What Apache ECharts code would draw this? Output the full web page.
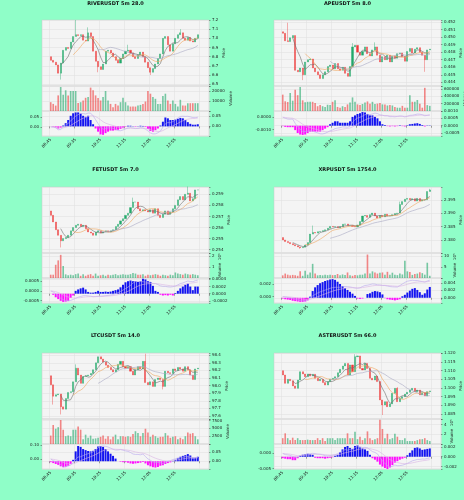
<!DOCTYPE html>
<html>
<head>
<meta charset="utf-8">
<script src="https://cdn.jsdelivr.net/npm/echarts@6/dist/echarts.min.js"></script>
<style>
  html, body { margin: 0; padding: 0; background: #8ffec8; }
  #chart { width: 464px; height: 500px; }
</style>
</head>
<body>
<div id="chart"></div>
<script>
// ---- data ----
const titles = ['RIVERUSDT 5m 28.0', 'APEUSDT 5m 8.0', 'FETUSDT 5m 7.0', 'XRPUSDT 5m 1754.0', 'LTCUSDT 5m 14.0', 'ASTERUSDT 5m 66.0'];
const tickLabels = ['08:45', '09:35', '10:25', '11:15', '12:05', '12:55'];

const riverOpen0 = 6.80;
const riverClose = [6.76,6.74,6.71,6.62,6.73,6.87,6.90,6.89,6.96,7.02, 7.04,7.03,7.04,6.98,6.97,7.06,7.02,6.86,6.75,6.69,
  6.66,6.72,6.86,6.87,6.84,6.80,6.76,6.73,6.78,6.83, 6.86,6.87,6.84,6.80,6.78,6.82,6.85,6.80,6.74,6.68,
  6.63,6.67,6.72,6.78,6.83,7.00,7.02,6.93,6.86,6.94, 7.00,7.04,7.06,7.00,6.98,7.01,6.97,6.96,7.00,7.04];
const riverWicks = [[4,null,6.55],[10,7.2,null],[15,7.12,null],[19,null,6.63],[31,6.93,null],[40,null,6.60],[52,7.1,null]];
const riverVol = [8800,7100,5400,15600,24000,16300,20700,15600,20000,20000, 20000,8100,8800,10500,13200,13900,23400,20700,15600,12900,
  10500,13900,20000,10500,7100,3700,7100,5400,8800,13200, 8800,5400,4400,4400,4400,5400,6100,7100,9500,20000,
  17300,13900,12200,7100,7100,14900,17300,10500,7100,10500, 7100,4400,11200,5400,5400,7800,7800,7800,7800,7800];
const riverHist = [0,-0.002,-0.005,-0.01,-0.006,0.004,0.015,0.03,0.05,0.062, 0.066,0.066,0.06,0.05,0.045,0.05,0.03,0.01,-0.01,-0.025,
  -0.038,-0.04,-0.032,-0.025,-0.02,-0.02,-0.018,-0.016,-0.012,-0.006, -0.002,0.003,0.003,0.001,-0.002,0.001,0.003,0.002,-0.003,-0.012,
  -0.022,-0.025,-0.018,-0.01,0.004,0.022,0.042,0.038,0.03,0.03, 0.032,0.036,0.04,0.038,0.03,0.02,0.012,0.008,0.008,0.01];

const apeOpen0 = 0.4507;
const apeClose = [0.4505,0.4495,0.4494,0.4499,0.4502,0.4456,0.4454,0.4459,0.4450,0.4467, 0.4470,0.4471,0.4459,0.4454,0.4450,0.4445,0.4450,0.4454,0.4461,0.4463,
  0.4458,0.4465,0.4458,0.4456,0.4460,0.4452,0.4448,0.4461,0.4487,0.4489, 0.4480,0.4476,0.4481,0.4487,0.4478,0.4475,0.4483,0.4487,0.4476,0.4467,
  0.4474,0.4470,0.4476,0.4467,0.4475,0.4472,0.4478,0.4479,0.4474,0.4468, 0.4481,0.4485,0.4479,0.4484,0.4486,0.4480,0.4476,0.4470,0.4483,0.4484];
const apeWicks = [[2,0.4519,null],[8,null,0.4443],[28,0.4492,null],[37,0.4493,null],[57,null,0.4454]];
const apeVol = [445000,264000,245000,490000,280000,580000,430000,650000,290000,240000, 250000,250000,250000,220000,130000,160000,130000,110000,170000,160000,
  250000,290000,110000,90000,130000,110000,180000,230000,370000,250000, 180000,160000,190000,230000,260000,200000,250000,190000,200000,220000,
  180000,180000,150000,160000,150000,110000,90000,90000,140000,90000, 90000,430000,250000,250000,300000,200000,90000,630000,160000,140000];
const apeHist = [-0.00003,-0.00008,-0.0001,-0.0001,-0.0001,-0.0003,-0.0005,-0.0006,-0.00063,-0.0006, -0.0005,-0.0004,-0.0004,-0.0004,-0.0004,-0.0004,-0.0003,-0.0002,-0.0001,0.0001,
  0.0002,0.0003,0.0003,0.0002,0.0002,0.0002,0.0002,0.0003,0.0006,0.0007, 0.0008,0.00085,0.00093,0.0009,0.0008,0.0007,0.0007,0.0006,0.0005,0.0003,
  0.0001,0.00005,-0.00003,-0.00005,-0.00003,-0.00005,-0.00003,0.00003,-0.00003,-0.00005, 0.00003,0.0001,0.00012,0.00015,0.00017,0.00012,0.00005,-0.00005,0.00002,0.00002];

const fetOpen0 = 0.2575;
const fetClose = [0.2571,0.2565,0.2558,0.2553,0.2548,0.2550,0.2551,0.2553,0.2557,0.2560, 0.2562,0.2563,0.2561,0.2562,0.2559,0.2556,0.2555,0.2553,0.2556,0.2557,
  0.2555,0.2556,0.2557,0.2556,0.2557,0.2558,0.2561,0.2563,0.2566,0.2568, 0.2571,0.2573,0.2578,0.2583,0.2583,0.2577,0.2575,0.2576,0.2575,0.2574,
  0.2576,0.2573,0.2577,0.2571,0.2569,0.2572,0.2575,0.2572,0.2574,0.2577, 0.2580,0.2585,0.2588,0.2585,0.2590,0.2591,0.2584,0.2586,0.2594,0.2594];
const fetWicks = [[4,null,0.2542],[33,0.2587,null],[55,0.2597,null]];
const fetVol = [0.3,0.3,1.2,1.6,2.1,1.1,0.33,0.25,0.3,0.25, 0.35,0.4,0.2,0.35,0.2,0.3,0.35,0.2,0.4,0.2,
  0.25,0.3,0.2,0.3,0.25,0.3,0.35,0.25,0.3,0.35, 0.3,0.3,0.35,0.45,0.4,0.3,0.3,0.35,0.2,0.3,
  0.25,0.3,0.35,0.3,0.2,0.3,0.25,0.2,0.3,0.25, 0.5,0.4,0.35,0.3,0.4,0.35,0.3,0.35,0.3,0.25];
const fetHist = [0,-0.00003,-0.0001,-0.00015,-0.0002,-0.00023,-0.00022,-0.0002,-0.00012,-0.00005, 0.00008,0.00012,0.00015,0.00017,0.00012,0.00005,0.00003,0.00003,0.00005,0.00008,
  0.00005,0.00005,0.00006,0.00005,0.00006,0.00008,0.0001,0.00012,0.00018,0.00025, 0.00032,0.00035,0.00037,0.00035,0.00035,0.00033,0.00035,0.00042,0.0004,0.00035,
  0.00033,0.00022,0.00008,0.00005,-0.00003,-0.00005,-0.00004,-0.00005,-0.00003,-0.00005, 0.00002,0.00008,0.00015,0.0002,0.00025,0.00028,0.0002,0.0001,0.0002,0.0002];

const xrpOpen0 = 2.3809;
const xrpClose = [2.3800,2.3794,2.3790,2.3786,2.3782,2.3778,2.3774,2.3771,2.3773,2.3781, 2.3790,2.3822,2.3828,2.3826,2.3831,2.3832,2.3835,2.3838,2.3844,2.3851,
  2.3849,2.3850,2.3846,2.3850,2.3859,2.3860,2.3854,2.3854,2.3851,2.3849, 2.3856,2.3869,2.3890,2.3892,2.3885,2.3895,2.3901,2.3890,2.3882,2.3892,
  2.3887,2.3897,2.3890,2.3890,2.3895,2.3899,2.3901,2.3933,2.3944,2.3953, 2.3956,2.3951,2.3955,2.3946,2.3956,2.3946,2.3950,2.3951,2.3982,2.3988];
const xrpWicks = [[7,null,2.3767],[12,2.3854,null],[47,2.3944,null],[59,2.3992,null]];
const xrpVol = [1.2,2.0,1.5,1.2,1.4,1.2,1.0,3.1,1.0,3.3, 1.5,2.5,6.4,2.0,1.2,1.3,1.2,1.5,1.3,1.5,
  1.3,1.4,1.8,1.2,1.6,1.3,2.5,1.2,1.0,1.3, 1.2,1.5,1.5,2.0,10.6,2.0,3.0,2.5,2.0,2.4,
  2.5,1.5,2.8,1.5,2.4,1.5,1.3,2.0,1.6,7.8, 3.0,2.7,1.4,1.8,2.0,2.6,2.2,1.5,6.9,1.0];
const xrpHist = [-0.0002,-0.0004,-0.0005,-0.0006,-0.0008,-0.0009,-0.001,-0.0011,-0.0011,-0.001, -0.0007,0.0003,0.0018,0.0028,0.0034,0.0039,0.0042,0.0045,0.0047,0.0049,
  0.005,0.0048,0.0043,0.0037,0.0031,0.0026,0.0021,0.0016,0.0011,0.0005, -0.0002,-0.0003,-0.0002,0,0.001,0.0012,0.0016,0.0018,0.0017,0.0015,
  0.0009,-0.0001,-0.0004,-0.0005,-0.0006,-0.0007,-0.0006,-0.0004,0.0004,0.0008, 0.0014,0.0019,0.0024,0.0026,0.0021,0.0015,0.0008,0.0012,0.0022,0.0029];

const ltcOpen0 = 98.13;
const ltcClose = [98.01,97.86,97.88,97.89,97.72,97.69,97.83,97.91,97.92,98.05, 98.23,98.14,98.03,98.12,98.13,98.14,98.16,98.21,98.30,98.38,
  98.35,98.31,98.27,98.24,98.21,98.18,98.21,98.28,98.32,98.25, 98.23,98.25,98.19,98.14,98.21,98.25,98.22,98.32,98.04,98.01,
  98.05,97.99,98.08,98.10,98.08,97.99,98.19,98.17,98.16,98.22, 98.20,98.24,98.22,98.19,98.25,98.21,98.14,98.08,98.22,98.23];
const ltcWicks = [[1,null,97.75],[4,null,97.62],[10,98.28,null],[38,98.42,null],[45,null,97.95]];
const ltcVol = [2700,6100,4900,5400,7700,4600,2500,2700,2500,4600, 4600,5600,4600,1500,3000,2000,2700,1700,1800,2000,
  2300,2700,1700,2500,1500,2300,3000,1500,2500,2500, 2300,2500,2300,3200,4100,3500,2500,3500,4900,3700,
  2300,3000,2500,2000,2300,2300,3500,2700,2000,2300, 2500,1500,2000,1500,2500,3700,3300,3500,2500,1500];
const ltcHist = [-0.005,-0.01,-0.015,-0.02,-0.028,-0.033,-0.03,-0.025,-0.015,0.008, 0.055,0.085,0.08,0.068,0.062,0.057,0.055,0.058,0.068,0.082,
  0.085,0.08,0.068,0.055,0.042,0.03,0.015,0,-0.003,-0.005, -0.005,-0.008,-0.012,-0.014,-0.012,-0.01,-0.008,-0.004,-0.012,-0.022,
  -0.028,-0.033,-0.035,-0.032,-0.025,-0.022,-0.015,-0.01,-0.006,0.002, 0.008,0.016,0.025,0.03,0.034,0.04,0.032,0.02,0.02,0.025];

const asterOpen0 = 1.1100;
const asterClose = [1.1075,1.1027,1.1050,1.1042,1.1012,1.0998,1.1046,1.1094,1.1081,1.1065, 1.1081,1.1069,1.1079,1.1056,1.1042,1.1050,1.1031,1.1017,1.1037,1.1050,
  1.1056,1.1065,1.1088,1.1108,1.1127,1.1142,1.1075,1.1133,1.1094,1.1181, 1.1185,1.1113,1.1104,1.1142,1.1113,1.1056,1.1046,1.1069,1.1037,1.0931,
  1.0902,1.0921,1.0892,1.0908,1.0969,1.0998,1.0921,1.0940,1.0950,1.0965, 1.0975,1.0988,1.0998,1.0979,1.0988,1.0960,1.0973,1.0954,1.0979,1.0983];
const asterWicks = [[29,1.1195,null],[40,null,1.0844],[46,1.1005,null]];
const asterVol = [1.2,2.2,1.2,0.8,1.3,0.8,1.2,0.8,0.8,0.8, 0.9,0.8,0.8,0.8,1.2,0.8,1.2,0.6,1.2,1.2,
  1.2,0.8,1.2,1.2,1.2,1.2,2.2,1.2,1.2,2.5, 1.0,1.5,0.8,1.2,2.6,1.2,0.8,1.0,1.2,5.0,
  3.1,1.2,2.1,1.0,1.2,2.1,1.5,0.8,0.8,1.2, 0.6,0.6,0.6,0.6,0.8,1.0,1.0,1.2,0.8,0.6];
const asterHist = [-0.0003,-0.0004,-0.0005,-0.0005,-0.0007,-0.0007,-0.0003,0.0002,0.0004,0.0005, 0.0006,0.0005,0.0004,-0.0002,-0.0003,-0.0003,-0.0003,-0.0004,-0.0003,-0.0002,
  -0.0001,0.0002,0.0004,0.0009,0.0015,0.002,0.0022,0.0018,0.0016,0.0022, 0.0023,0.0019,0.0017,0.0015,0.0012,0.0004,-0.0003,-0.0006,-0.001,-0.0016,
  -0.002,-0.0023,-0.0025,-0.0022,-0.0017,-0.0012,-0.0009,-0.0006,-0.0004,-0.0002, 0.0003,0.0008,0.0013,0.0018,0.0019,0.0017,0.0014,0.0015,0.0016,0.0017];

const panels = [
  { open0: riverOpen0, close: riverClose, wicks: riverWicks, vol: riverVol, hist: riverHist },
  { open0: apeOpen0, close: apeClose, wicks: apeWicks, vol: apeVol, hist: apeHist },
  { open0: fetOpen0, close: fetClose, wicks: fetWicks, vol: fetVol, hist: fetHist },
  { open0: xrpOpen0, close: xrpClose, wicks: xrpWicks, vol: xrpVol, hist: xrpHist },
  { open0: ltcOpen0, close: ltcClose, wicks: ltcWicks, vol: ltcVol, hist: ltcHist },
  { open0: asterOpen0, close: asterClose, wicks: asterWicks, vol: asterVol, hist: asterHist }
];

// axis ranges per panel: [min, max, step, decimals]
const axes = [
  { price: [6.48, 7.2, 0.1, 1], vol: [0, 25000, 10000, 0], hist: [-0.0455, 0.0727, 0.05, 2], volName: 'Volume' },
  { price: [0.44352, 0.45226, 0.001, 3], vol: [0, 680000, 200000, 0], hist: [-0.0007, 0.001, 0.0005, 4], volName: 'Volume' },
  { price: [0.2537, 0.25966, 0.001, 3], vol: [0, 2.27, 1, 0], hist: [-0.00026, 0.00044, 0.0002, 4], volName: 'Volume  10\u2076' },
  { price: [2.3751, 2.39989, 0.005, 3], vol: [0, 11.3, 5, 0], hist: [-0.0014, 0.0053, 0.002, 3], volName: 'Volume  10\u2075' },
  { price: [97.56, 98.43, 0.1, 1], vol: [0, 8030, 2500, 0], hist: [-0.043, 0.096, 0.05, 2], volName: 'Volume' },
  { price: [1.0821, 1.1202, 0.005, 3], vol: [0, 5.15, 2, 0], hist: [-0.0025, 0.0026, 0.002, 3], volName: 'Volume  10\u2075' }
];

// ---- layout / style ----
const N = 60, PAD_L = 3, PAD_R = 4;
const FONT = 'DejaVu Sans';
const UP = '#22a86a', DOWN = '#ee3a3a';
const UP_VOL = 'rgba(34,168,106,0.6)', DOWN_VOL = 'rgba(238,58,58,0.6)';
const GRID_LINE = '#dedede';
const rowTop = [20, 187, 353];
const colLeft = [42, 274];
const W = 167, H_PRICE = 66, H_VOL = 25, H_MACD = 25;

const cats = [];
for (let i = -PAD_L; i < N + PAD_R; i++) cats.push(i);
const pad = arr => [...Array(PAD_L).fill('-'), ...arr, ...Array(PAD_R).fill('-')];
const isTick = idx => { const i = idx - PAD_L; return i >= 0 && i <= N && i % 10 === 0; };

const sma = (arr, n) => arr.map((_, i) => i < n - 1 ? '-' : arr.slice(i - n + 1, i + 1).reduce((a, b) => a + b, 0) / n);
const ema = (arr, n) => { const k = 2 / (n + 1); let e = arr[0]; return arr.map(v => (e = v * k + e * (1 - k))); };

function stepFormatter(step, dec, hideZero) {
  return v => {
    const r = v / step;
    if (Math.abs(r - Math.round(r)) > 1e-6) return '';
    if (hideZero && Math.abs(v) < 1e-12) return '';
    return v.toFixed(dec);
  };
}

function valueAxis(grid, rng, opts) {
  const [min, max, step, dec] = rng;
  return Object.assign({
    type: 'value', gridIndex: grid, position: 'right', min, max,
    minInterval: step, maxInterval: step, splitNumber: 3,
    axisLine: { show: false }, axisTick: { show: true, length: 1.5, lineStyle: { color: '#444', width: 0.5 } },
    axisLabel: { fontSize: 4, fontFamily: FONT, color: '#222', margin: 3, formatter: stepFormatter(step, dec, opts && opts.hideZero) },
    splitLine: { show: true, lineStyle: { color: GRID_LINE, width: 0.5 } },
    nameTextStyle: { fontSize: 4, fontFamily: FONT, color: '#222' }
  }, opts && opts.extra);
}

const grids = [], xAxes = [], yAxes = [], series = [], graphics = [];

panels.forEach((d, p) => {
  const ax = axes[p];
  const left = colLeft[p % 2], top = rowTop[Math.floor(p / 2)];
  const g0 = grids.length;
  const gridStyle = { show: true, backgroundColor: '#f4f4f4', borderColor: '#c8c8c8', borderWidth: 0.5, outerBoundsMode: 'none' };
  grids.push(Object.assign({ left, top, width: W, height: H_PRICE }, gridStyle));
  grids.push(Object.assign({ left, top: top + H_PRICE, width: W, height: H_VOL }, gridStyle));
  grids.push(Object.assign({ left, top: top + H_PRICE + H_VOL, width: W, height: H_MACD }, gridStyle));

  for (let k = 0; k < 3; k++) {
    const last = k === 2;
    xAxes.push({
      type: 'category', gridIndex: g0 + k, data: cats, boundaryGap: true,
      axisLine: { show: false },
      axisTick: { show: last, interval: isTick, length: 2, lineStyle: { color: '#444', width: 0.5 } },
      axisLabel: {
        show: last, interval: isTick, rotate: 45, fontSize: 4, fontFamily: FONT, color: '#222', margin: 3,
        formatter: (v) => tickLabels[Number(v) / 10] || ''
      },
      splitLine: { show: true, interval: isTick, lineStyle: { color: GRID_LINE, width: 0.5 } }
    });
  }

  const y0 = yAxes.length;
  const priceChars = ax.price[1].toFixed(ax.price[3]).length;
  const volChars = ax.vol[1].toFixed(0).length;
  yAxes.push(valueAxis(g0, ax.price, { extra: { name: 'Price', nameLocation: 'middle', nameRotate: 90, nameGap: 4 + priceChars * 1.6 } }));
  yAxes.push(valueAxis(g0 + 1, ax.vol, { hideZero: true, extra: { name: ax.volName, nameLocation: 'middle', nameRotate: 90, nameGap: 4 + volChars * 1.6 } }));
  yAxes.push(valueAxis(g0 + 2, ax.hist));
  yAxes.push({
    type: 'value', gridIndex: g0 + 2, position: 'left', splitNumber: 2,
    min: v => v.min - (v.max - v.min) * 0.1, max: v => v.max + (v.max - v.min) * 0.1,
    axisLine: { show: false }, axisTick: { show: true, length: 1.5, lineStyle: { color: '#444', width: 0.5 } },
    axisLabel: { fontSize: 4, fontFamily: FONT, color: '#222', margin: 3, showMinLabel: false, showMaxLabel: false,
      formatter: v => v.toFixed(ax.hist[3]) },
    splitLine: { show: false }
  });

  // candles
  const opens = d.close.map((c, i) => i === 0 ? d.open0 : d.close[i - 1]);
  const wickMap = {};
  d.wicks.forEach(w => { wickMap[w[0]] = w; });
  const candles = d.close.map((c, i) => {
    const o = opens[i];
    let hi = Math.max(o, c), lo = Math.min(o, c);
    const w = wickMap[i];
    if (w) { if (w[1] != null) hi = w[1]; if (w[2] != null) lo = w[2]; }
    return [o, c, lo, hi];
  });
  series.push({
    type: 'candlestick', xAxisIndex: g0, yAxisIndex: y0, data: pad(candles), barWidth: '62%',
    itemStyle: { color: UP, color0: DOWN, borderColor: UP, borderColor0: DOWN, borderWidth: 0.4 }
  });
  [[5, '#6d6d6d'], [10, '#f0a45a'], [20, '#a7a7c2']].forEach(([n, col]) => {
    series.push({ type: 'line', xAxisIndex: g0, yAxisIndex: y0, data: pad(sma(d.close, n)), showSymbol: false,
      lineStyle: { color: col, width: 0.6 }, z: 3 });
  });

  // volume
  series.push({
    type: 'bar', xAxisIndex: g0 + 1, yAxisIndex: y0 + 1, barWidth: '65%',
    data: pad(d.vol.map((v, i) => ({ value: v, itemStyle: { color: d.close[i] >= opens[i] ? UP_VOL : DOWN_VOL } })))
  });

  // macd
  series.push({
    type: 'bar', xAxisIndex: g0 + 2, yAxisIndex: y0 + 2, barWidth: '80%',
    data: pad(d.hist.map(v => ({ value: v, itemStyle: { color: v >= 0 ? '#1414f0' : '#ff10ff' } })))
  });
  const e26 = ema(d.close, 26);
  const macd = ema(d.close, 12).map((v, i) => v - e26[i]);
  const signal = ema(macd, 9);
  series.push({ type: 'line', xAxisIndex: g0 + 2, yAxisIndex: y0 + 3, data: pad(macd), showSymbol: false,
    lineStyle: { color: '#b9a8ee', width: 0.6 } });
  series.push({ type: 'line', xAxisIndex: g0 + 2, yAxisIndex: y0 + 3, data: pad(signal), showSymbol: false,
    lineStyle: { color: '#d8b4e4', width: 0.6 } });

  graphics.push({
    type: 'text', x: left + W / 2 - 10, y: [4, 170, 336][Math.floor(p / 2)],
    style: { text: titles[p], font: 'bold 5px "DejaVu Sans"', fill: '#111', textAlign: 'center', textVerticalAlign: 'middle' }
  });
});

const chart = echarts.init(document.getElementById('chart'), null, { renderer: 'canvas' });
chart.setOption({
  backgroundColor: '#8ffec8',
  animation: false,
  grid: grids,
  xAxis: xAxes,
  yAxis: yAxes,
  series,
  graphic: graphics
});
window.addEventListener('resize', () => chart.resize());
</script>
</body>
</html>
